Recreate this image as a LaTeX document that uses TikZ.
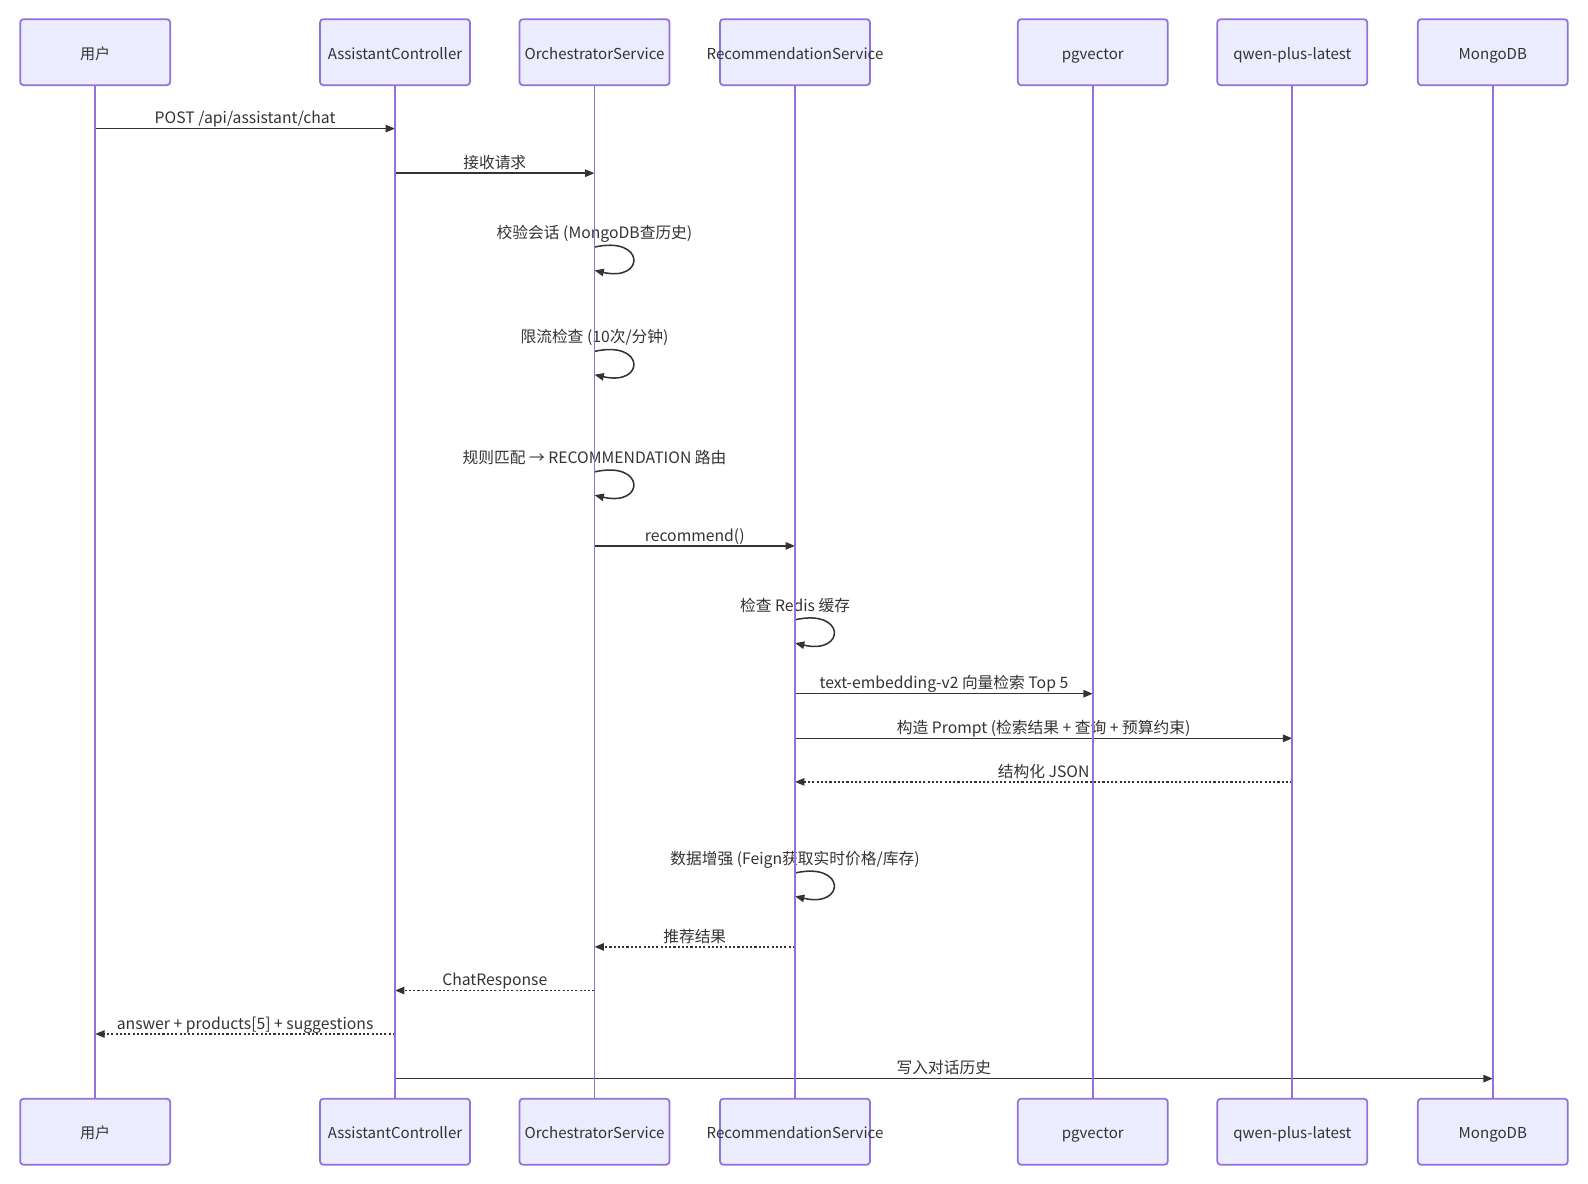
\documentclass[tikz,border=0pt]{standalone}
\usepackage{fontspec}
\setmainfont{Noto Sans CJK SC}
\usetikzlibrary{arrows.meta,calc}
\definecolor{actfill}{HTML}{ECECFF}
\definecolor{actline}{HTML}{9370DB}
\definecolor{txt}{HTML}{333333}
\newcommand\seqmsg[5]{%
  \coordinate (yy) at (0,#3);
  \draw[#5] (#1 |- yy) -- node[lbl, anchor=base, yshift=3.6pt] {#4} (#2 |- yy);}
\newcommand\selfmsg[3]{%
  \coordinate (yy) at (0,#2);
  \coordinate (ss) at (#1 |- yy);
  \node[lbl, anchor=base] at ($(ss)+(0,-8.8)$) {#3};
  \draw[msg] (ss) .. controls ($(ss)+(51,-11.6)$) and ($(ss)+(51,35)$) .. ($(ss)+(0,23.3)$);}
\begin{document}
\begin{tikzpicture}[x=0.75pt,y=-0.75pt,
  actor/.style={draw=actline, fill=actfill, line width=1.3pt, rounded corners=2.5pt,
    minimum width=112.5pt, minimum height=49.5pt, inner sep=0pt, text=txt,
    text height=13pt, text depth=2.5pt,
    font=\fontsize{11.3}{13}\selectfont},
  life/.style={draw=actline, line width=1.25pt},
  lbl/.style={text=txt, inner sep=0pt, font=\fontsize{11.8}{13}\selectfont},
  msg/.style={draw=txt, line width=1.15pt, -{Triangle[length=7pt,width=5.5pt]}},
  reply/.style={msg, dash pattern=on 1.6pt off 1.6pt}]
\useasboundingbox (0,0) rectangle (1588,1184);
% actors
\foreach \n/\x/\t in {1/95.2/用户, 2/395.0/AssistantController, 3/594.5/OrchestratorService,
  4/795.0/RecommendationService, 5/1092.8/pgvector, 6/1292.3/qwen-plus-latest, 7/1492.8/MongoDB}{
  \node[actor] (t\n) at (\x,52.2) {\makebox[60pt][c]{\t}};
  \node[actor] (b\n) at (\x,1131.7) {\makebox[60pt][c]{\t}};
}
% messages
\seqmsg{t1}{t2}{128.6}{POST /api/assistant/chat}{msg}
\seqmsg{t2}{t3}{173.2}{接收请求}{msg}
\selfmsg{t3}{247.1}{校验会话 (MongoDB查历史)}
\selfmsg{t3}{351.4}{限流检查 (10次/分钟)}
\selfmsg{t3}{471.9}{规则匹配 → RECOMMENDATION 路由}
\seqmsg{t3}{t4}{545.9}{recommend()}{msg}
\selfmsg{t4}{619.8}{检查 Redis 缓存}
\seqmsg{t4}{t5}{693.7}{text-embedding-v2 向量检索 Top 5}{msg}
\seqmsg{t4}{t6}{738.3}{构造 Prompt (检索结果 + 查询 + 预算约束)}{msg}
\seqmsg{t6}{t4}{781.9}{结构化 JSON}{reply}
\selfmsg{t4}{873.0}{数据增强 (Feign获取实时价格/库存)}
\seqmsg{t4}{t3}{946.9}{推荐结果}{reply}
\seqmsg{t3}{t2}{990.5}{ChatResponse}{reply}
\seqmsg{t2}{t1}{1034.0}{answer + products[5] + suggestions}{reply}
\seqmsg{t2}{t7}{1078.6}{写入对话历史}{msg}
% lifelines
\foreach \n in {1,...,7}{\draw[life] (t\n.south) -- (b\n.north);}
\end{tikzpicture}
\end{document}
